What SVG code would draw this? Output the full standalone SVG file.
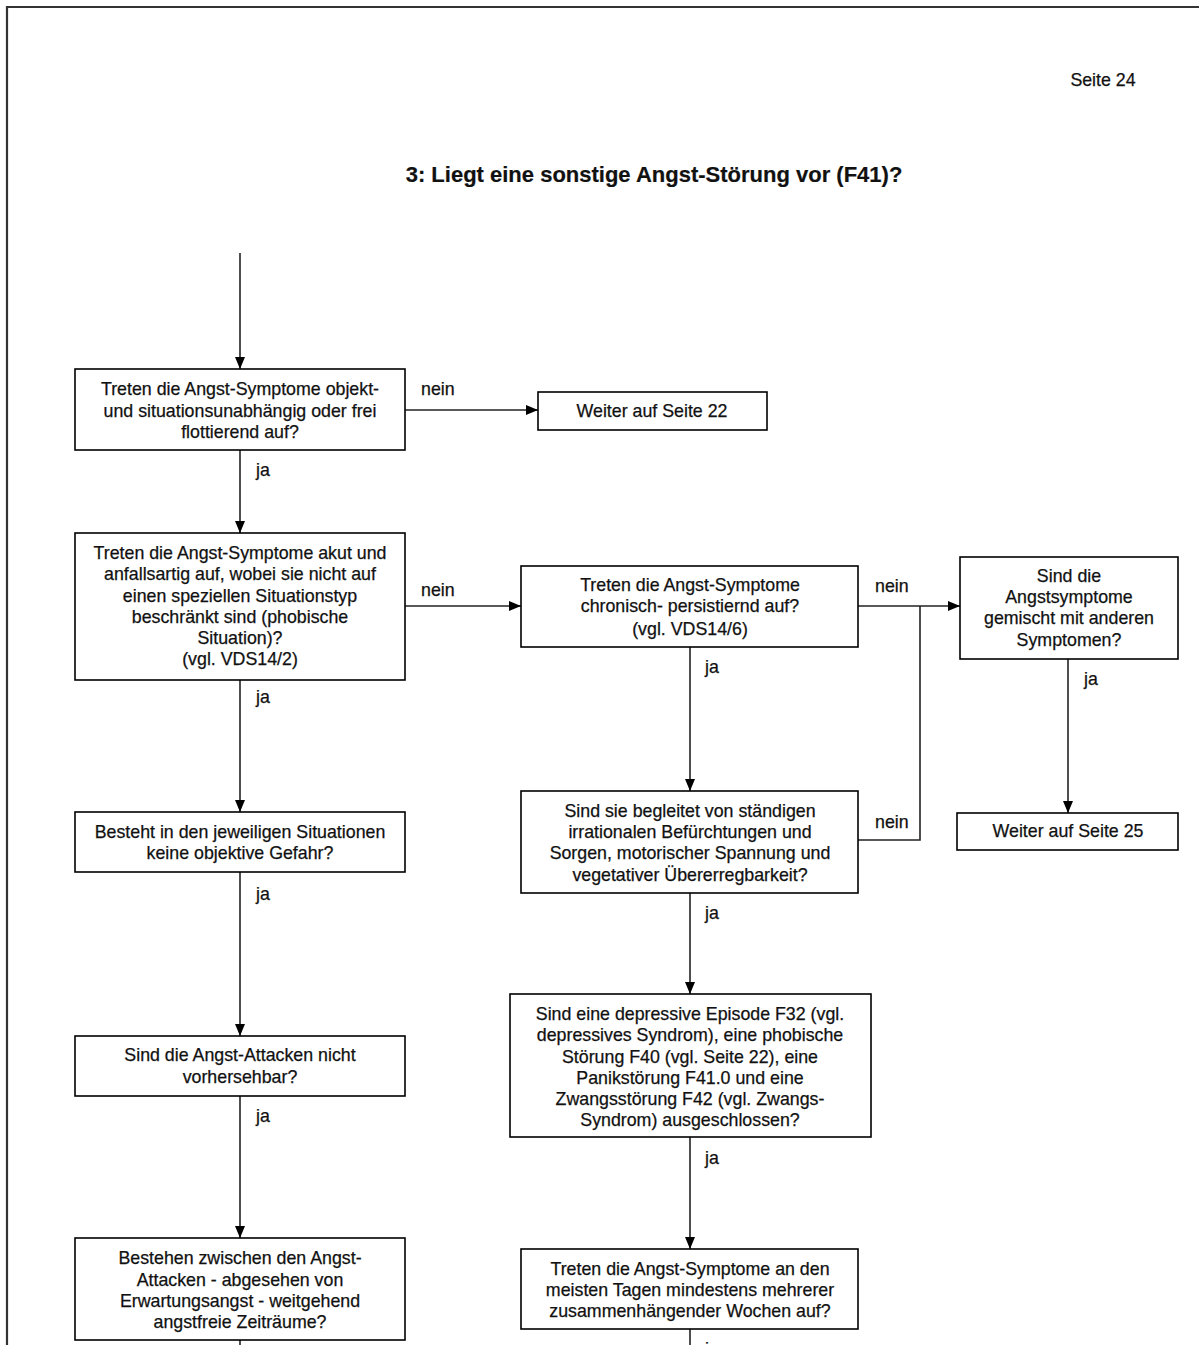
<svg xmlns="http://www.w3.org/2000/svg" width="1199" height="1345" viewBox="0 0 1199 1345">
<style>
.box{fill:#fff;stroke:#000;stroke-width:1.6}
.t{font-family:"Liberation Sans",Arial,sans-serif;font-size:17.8px;fill:#111;stroke:#111;stroke-width:0.25;text-anchor:middle}
.l{font-family:"Liberation Sans",Arial,sans-serif;font-size:17.8px;fill:#111;stroke:#111;stroke-width:0.25}
.c{fill:none;stroke:#222;stroke-width:1.6}
</style>
<defs>
<marker id="ah" viewBox="0 0 12 10" refX="12" refY="5" markerWidth="12" markerHeight="10" markerUnits="userSpaceOnUse" orient="auto">
<path d="M0,0 L12,5 L0,10 Z" fill="#000"/>
</marker>
</defs>
<rect width="1199" height="1345" fill="#fff"/>
<path d="M7,1345 V7 H1199" fill="none" stroke="#333" stroke-width="2.2"/>
<text x="1103" y="86" class="t">Seite 24</text>
<text x="654" y="182" class="t" style="font-size:22px;font-weight:bold;stroke-width:0.2">3: Liegt eine sonstige Angst-Störung vor (F41)?</text>

<g id="connectors">
<path class="c" d="M240,253 V369" marker-end="url(#ah)"/>
<path class="c" d="M405,410 H538" marker-end="url(#ah)"/>
<path class="c" d="M240,450 V533" marker-end="url(#ah)"/>
<path class="c" d="M405,606 H521" marker-end="url(#ah)"/>
<path class="c" d="M858,606 H960" marker-end="url(#ah)"/>
<path class="c" d="M1068,659 V813" marker-end="url(#ah)"/>
<path class="c" d="M690,647 V791" marker-end="url(#ah)"/>
<path class="c" d="M858,840 H920 V606"/>
<path class="c" d="M690,893 V994" marker-end="url(#ah)"/>
<path class="c" d="M690,1137 V1249" marker-end="url(#ah)"/>
<path class="c" d="M690,1329 V1345"/>
<path class="c" d="M240,680 V812" marker-end="url(#ah)"/>
<path class="c" d="M240,872 V1036" marker-end="url(#ah)"/>
<path class="c" d="M240,1096 V1238" marker-end="url(#ah)"/>
<path class="c" d="M240,1340 V1345"/>
<text x="421" y="395" class="l">nein</text>
<text x="256" y="476" class="l">ja</text>
<text x="421" y="596" class="l">nein</text>
<text x="875" y="592" class="l">nein</text>
<text x="1084" y="685" class="l">ja</text>
<text x="705" y="673" class="l">ja</text>
<text x="875" y="828" class="l">nein</text>
<text x="705" y="919" class="l">ja</text>
<text x="705" y="1164" class="l">ja</text>
<text x="705" y="1355" class="l">ja</text>
<text x="256" y="703" class="l">ja</text>
<text x="256" y="900" class="l">ja</text>
<text x="256" y="1122" class="l">ja</text>
</g>

<g id="n1"><rect class="box" x="75" y="369" width="330" height="81"/>
<text class="t" x="240" y="395">Treten die Angst-Symptome objekt-</text>
<text class="t" x="240" y="417">und situationsunabhängig oder frei</text>
<text class="t" x="240" y="438">flottierend auf?</text></g>

<g id="n2"><rect class="box" x="538" y="392" width="229" height="38"/>
<text class="t" x="652" y="417">Weiter auf Seite 22</text></g>

<g id="n3"><rect class="box" x="75" y="533" width="330" height="147"/>
<text class="t" x="240" y="559">Treten die Angst-Symptome akut und</text>
<text class="t" x="240" y="580">anfallsartig auf, wobei sie nicht auf</text>
<text class="t" x="240" y="602">einen speziellen Situationstyp</text>
<text class="t" x="240" y="623">beschränkt sind (phobische</text>
<text class="t" x="240" y="644">Situation)?</text>
<text class="t" x="240" y="665">(vgl. VDS14/2)</text></g>

<g id="n4"><rect class="box" x="521" y="566" width="337" height="81"/>
<text class="t" x="690" y="591">Treten die Angst-Symptome</text>
<text class="t" x="690" y="612">chronisch- persistiernd auf?</text>
<text class="t" x="690" y="635">(vgl. VDS14/6)</text></g>

<g id="n5"><rect class="box" x="960" y="557" width="218" height="102"/>
<text class="t" x="1069" y="582">Sind die</text>
<text class="t" x="1069" y="603">Angstsymptome</text>
<text class="t" x="1069" y="624">gemischt mit anderen</text>
<text class="t" x="1069" y="646">Symptomen?</text></g>

<g id="n6"><rect class="box" x="957" y="813" width="221" height="37"/>
<text class="t" x="1068" y="837">Weiter auf Seite 25</text></g>

<g id="n7"><rect class="box" x="521" y="791" width="337" height="102"/>
<text class="t" x="690" y="817">Sind sie begleitet von ständigen</text>
<text class="t" x="690" y="838">irrationalen Befürchtungen und</text>
<text class="t" x="690" y="859">Sorgen, motorischer Spannung und</text>
<text class="t" x="690" y="881">vegetativer Übererregbarkeit?</text></g>

<g id="n8"><rect class="box" x="510" y="994" width="361" height="143"/>
<text class="t" x="690" y="1020">Sind eine depressive Episode F32 (vgl.</text>
<text class="t" x="690" y="1041">depressives Syndrom), eine phobische</text>
<text class="t" x="690" y="1063">Störung F40 (vgl. Seite 22), eine</text>
<text class="t" x="690" y="1084">Panikstörung F41.0 und eine</text>
<text class="t" x="690" y="1105">Zwangsstörung F42 (vgl. Zwangs-</text>
<text class="t" x="690" y="1126">Syndrom) ausgeschlossen?</text></g>

<g id="n9"><rect class="box" x="521" y="1249" width="337" height="80"/>
<text class="t" x="690" y="1275">Treten die Angst-Symptome an den</text>
<text class="t" x="690" y="1296">meisten Tagen mindestens mehrerer</text>
<text class="t" x="690" y="1317">zusammenhängender Wochen auf?</text></g>

<g id="n10"><rect class="box" x="75" y="812" width="330" height="60"/>
<text class="t" x="240" y="838">Besteht in den jeweiligen Situationen</text>
<text class="t" x="240" y="859">keine objektive Gefahr?</text></g>

<g id="n11"><rect class="box" x="75" y="1036" width="330" height="60"/>
<text class="t" x="240" y="1061">Sind die Angst-Attacken nicht</text>
<text class="t" x="240" y="1083">vorhersehbar?</text></g>

<g id="n12"><rect class="box" x="75" y="1238" width="330" height="102"/>
<text class="t" x="240" y="1264">Bestehen zwischen den Angst-</text>
<text class="t" x="240" y="1286">Attacken - abgesehen von</text>
<text class="t" x="240" y="1307">Erwartungsangst - weitgehend</text>
<text class="t" x="240" y="1328">angstfreie Zeiträume?</text></g>
</svg>
